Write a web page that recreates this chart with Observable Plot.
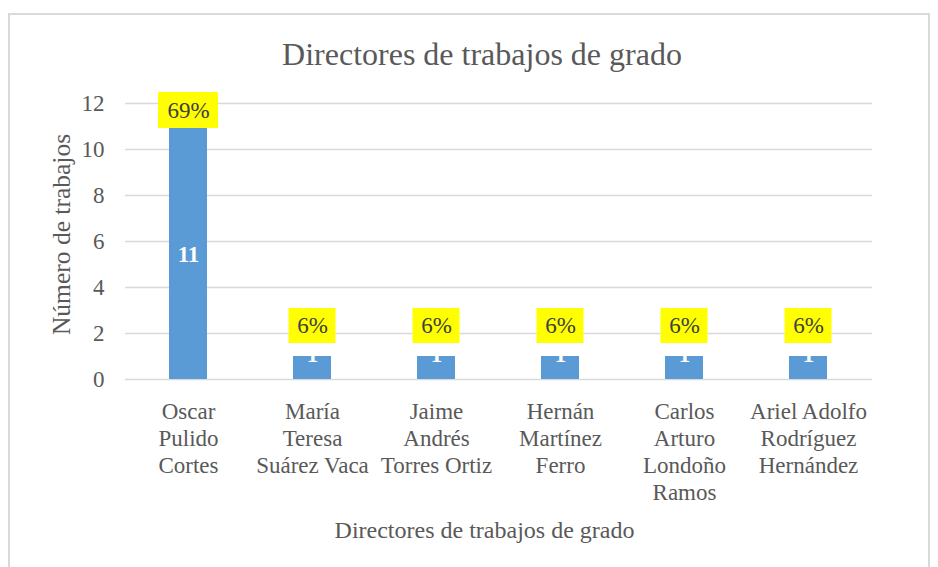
<!DOCTYPE html>
<html><head><meta charset="utf-8">
<script src="https://cdn.jsdelivr.net/npm/d3@7"></script>
<script src="https://cdn.jsdelivr.net/npm/@observablehq/plot@0.6"></script>
<style>
body{margin:0;background:#fff;}
#wrap{position:relative;width:938px;height:567px;overflow:hidden;background:#fff;}
#border{position:absolute;left:8px;top:13px;width:922px;height:620px;border:2px solid #d9d9d9;box-sizing:border-box;}
#chart{position:absolute;left:0;top:0;}
#chart svg, #chart svg text{font-family:"Liberation Serif","Times New Roman",serif !important;}
</style></head><body><div id="wrap"><div id="border"></div><div id="chart"></div></div>
<script>
const directors = ["Oscar Pulido Cortes","María Teresa Suárez Vaca","Jaime Andrés Torres Ortiz","Hernán Martínez Ferro","Carlos Arturo Londoño Ramos","Ariel Adolfo Rodríguez Hernández"];
const tickLabels = ["Oscar\nPulido\nCortes","María\nTeresa\nSuárez Vaca","Jaime\nAndrés\nTorres Ortiz","Hernán\nMartínez\nFerro","Carlos\nArturo\nLondoño\nRamos","Ariel Adolfo\nRodríguez\nHernández"];
const values = [11,1,1,1,1,1];
const percents = ["69%","6%","6%","6%","6%","6%"];
const yTicks = [0,2,4,6,8,10,12];
const title = "Directores de trabajos de grado";
const xTitle = "Directores de trabajos de grado";
const yTitle = "Número de trabajos";

const data = directors.map((name,i)=>({name, value: values[i], pct: percents[i]}));
const big = data.filter(d=>d.value>1);
const small = data.filter(d=>d.value<=1);
const font = "Liberation Serif";
const grey = "#595959";

const chart = Plot.plot({
  width:938, height:567, marginLeft:125, marginRight:66, marginTop:103, marginBottom:188,
  style:{fontFamily:font, fontSize:"23px", color:grey, background:"transparent", overflow:"visible"},
  x:{domain:directors, paddingInner:0.69, paddingOuter:0.345, label:null},
  y:{domain:[0,12], label:null},
  marks:[
    Plot.gridY(yTicks,{stroke:"#d9d9d9", strokeOpacity:1, strokeWidth:1.5}),
    Plot.axisY(yTicks,{tickSize:0, tickPadding:21, fontSize:23, fontFamily:font, fill:grey, label:null}),
    Plot.axisX({tickSize:0, tickPadding:20.7, fontSize:23, fontFamily:font, fill:grey, lineHeight:1.174, label:null,
      tickFormat: d => tickLabels[directors.indexOf(d)]}),
    Plot.barY(data,{x:"name", y:"value", fill:"#5B9BD5"}),
    Plot.text(big,{x:"name", y:d=>d.value/2, text:d=>String(d.value), fill:"white", fontWeight:"bold", fontFamily:font, fontSize:23, dy:2}),
    Plot.text(small,{x:"name", y:d=>d.value/2, text:d=>String(d.value), fill:"white", fontWeight:"bold", fontFamily:font, fontSize:23, dy:-13.5}),
    Plot.barY(big,{x:"name", y1:"value", y2:"value", fill:"#FFFF00", insetTop:-34, insetBottom:-2, insetLeft:-11, insetRight:-11}),
    Plot.barY(small,{x:"name", y1:"value", y2:"value", fill:"#FFFF00", insetTop:-48, insetBottom:13, insetLeft:-4.5, insetRight:-4.5}),
    Plot.text(big,{x:"name", y:"value", text:"pct", fill:"#404040", fontFamily:font, fontSize:23, dy:-16}),
    Plot.text(small,{x:"name", y:"value", text:"pct", fill:"#404040", fontFamily:font, fontSize:23, dy:-30.5}),
    Plot.text([title],{frameAnchor:"top", lineAnchor:"middle", dy:-49, dx:-17, fontSize:32, fontFamily:font, fill:grey}),
    Plot.text([xTitle],{frameAnchor:"bottom", lineAnchor:"middle", dy:151, dx:-14.5, fontSize:24, fontFamily:font, fill:grey}),
    Plot.text([yTitle],{frameAnchor:"left", textAnchor:"middle", lineAnchor:"middle", dx:-64, dy:-7, rotate:-90, fontSize:25.5, fontFamily:font, fill:grey})
  ]
});
document.getElementById("chart").appendChild(chart);
</script>
</body></html>
